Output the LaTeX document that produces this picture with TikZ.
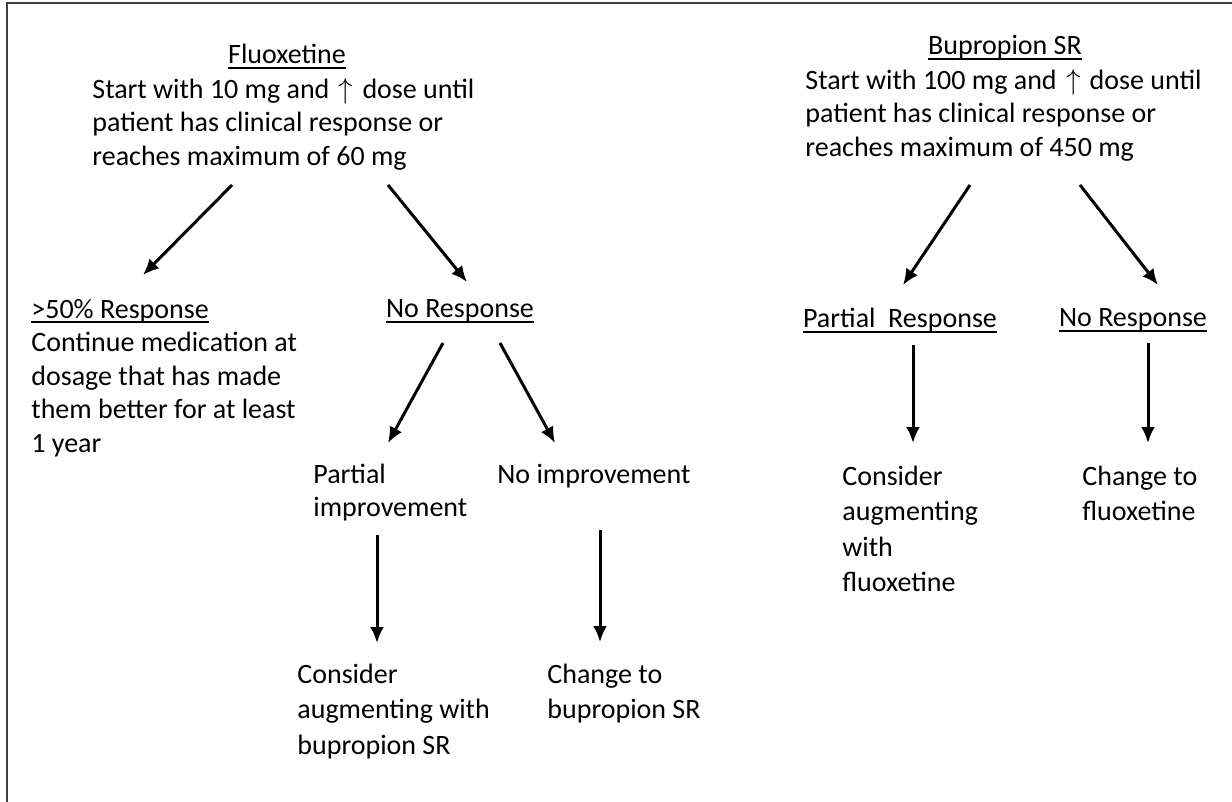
\documentclass[tikz,border=0pt]{standalone}
\usepackage{fontspec}
\setmainfont{Carlito}
\usetikzlibrary{arrows.meta}

\newcommand{\hdline}[1]{\setbox0=\hbox{#1}\rlap{\rule[-2.5pt]{\wd0}{1pt}}\box0}
\newcommand{\upar}{\kern1.5pt$\uparrow$\kern1.5pt}

\begin{document}
\begin{tikzpicture}[x=0.5pt, y=-0.5pt,
    txt_node/.style={font=\fontsize{14}{16.75}\selectfont, align=left, inner sep=0pt, anchor=north west},
    low_node/.style={txt_node, font=\fontsize{14}{17.75}\selectfont},
    head_node/.style={font=\fontsize{14}{16.75}\selectfont, inner sep=0pt, anchor=base},
    arr/.style={-{Latex[length=8pt,width=7pt]}, line width=1.5pt}]

    \useasboundingbox (0,0) rectangle (1232,802);
    \draw[line width=0.9pt, black!75] (7,802) -- (7,3) -- (1232,3);

    % fluoxetine side
    \node[head_node] (1) at (287,64) {\hdline{Fluoxetine}};
    \node[txt_node] (2) at (92,74) {\rule{0pt}{12pt}Start with 10 mg and \upar{} dose until\\patient has clinical response or\\reaches maximum of 60 mg};
    \node[txt_node] (3) at (31,294) {\rule{0pt}{12pt}\hdline{>50\% Response}\\Continue medication at\\dosage that has made\\them better for at least\\1 year};
    \node[head_node] (4) at (460,318) {\hdline{No Response}};
    \node[txt_node] (5) at (313,459) {\rule{0pt}{12pt}Partial\\improvement};
    \node[head_node, anchor=base west] (6) at (497,483) {No improvement};
    \node[low_node] (7) at (297,659) {\rule{0pt}{12pt}Consider\\augmenting with\\bupropion SR};
    \node[low_node] (8) at (547,659) {\rule{0pt}{12pt}Change to\\bupropion SR};

    % bupropion side
    \node[head_node] (9) at (1005,55) {\hdline{Bupropion SR}};
    \node[txt_node] (10) at (805,65) {\rule{0pt}{12pt}Start with 100 mg and \upar{} dose until\\patient has clinical response or\\reaches maximum of 450 mg};
    \node[head_node] (11) at (900,328) {\hdline{Partial~ Response}};
    \node[head_node] (12) at (1133,327) {\hdline{No Response}};
    \node[low_node] (13) at (842,461) {\rule{0pt}{12pt}Consider\\augmenting\\with\\fluoxetine};
    \node[low_node] (14) at (1082,461) {\rule{0pt}{12pt}Change to\\fluoxetine};

    \draw[arr] ([shift={(140,111)}]2.north west) -- ([shift={(112,-19)}]3.north west);
    \draw[arr] ([shift={(296,111)}]2.north west) -- ([shift={(7,-36)}]4.base);
    \draw[arr] ([shift={(-17,25)}]4.base) -- ([shift={(75,-16)}]5.north west);
    \draw[arr] ([shift={(40,25)}]4.base) -- ([shift={(58,-40)}]6.base west);
    \draw[arr] ([shift={(64,76)}]5.north west) -- ([shift={(80,-16)}]7.north west);
    \draw[arr] ([shift={(103,47)}]6.base west) -- ([shift={(53,-17)}]8.north west);

    \draw[arr] ([shift={(165,120)}]10.north west) -- ([shift={(3,-43)}]11.base);
    \draw[arr] ([shift={(275,120)}]10.north west) -- ([shift={(25,-42)}]12.base);
    \draw[arr] ([shift={(13,17)}]11.base) -- ([shift={(71,-18)}]13.north west);
    \draw[arr] ([shift={(15,16)}]12.base) -- ([shift={(66,-18)}]14.north west);

\end{tikzpicture}
\end{document}
